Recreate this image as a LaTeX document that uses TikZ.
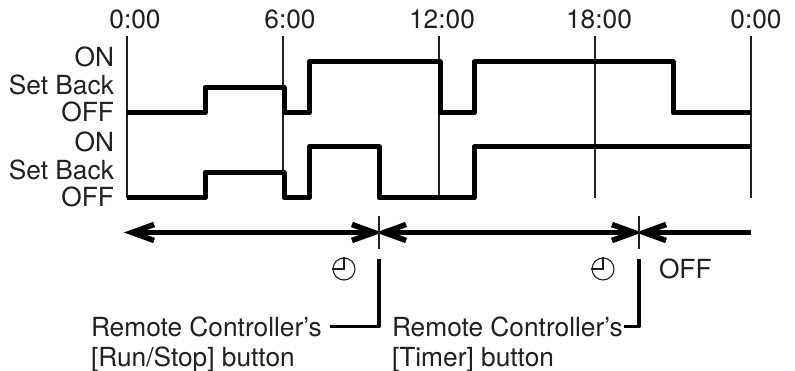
\documentclass[tikz,border=0pt]{standalone}
\usepackage{fontspec}
\setmainfont{TeX Gyre Heros}
\usetikzlibrary{positioning}
\usetikzlibrary{calc}
\usetikzlibrary{arrows.meta}

\definecolor{txt}{HTML}{231F20}

\begin{document}
\begin{tikzpicture}[x=1pt, y=-1pt]
% ------------------------------------------------- 
\tikzset{
  base/.style={inner sep=0pt, outer sep=0pt, text=txt, font=\fontsize{26.3}{30}\selectfont},
  hour/.style={base, anchor=base},
  level/.style={base, anchor=base east},
  note/.style={base, anchor=base west},
  grid/.style={draw=txt, line width=1.3pt},
  trace/.style={draw=black, line width=5pt, line join=round},
  span/.style={draw=black, line width=4.5pt, shorten <=-3pt, shorten >=-3pt, >={Straight Barb[length=22pt, width=16pt, line width=5.5pt]}},
  lead/.style={draw=black, line width=3.6pt, line join=round},
  clockface/.style={draw=txt, line width=1.1pt}
}
\useasboundingbox (0,0) rectangle (795,371);

% time scale
\foreach \name/\x/\lab/\tx in {a/127/0:00/135, b/283/6:00/290, c/439/12:00/442, d/595/18:00/599, e/751/0:00/756} {
  \node [hour] (hour\name) at (\tx,29) {\lab};
  \coordinate (top\name) at (\x,36);
  \coordinate (bot\name) at (\x,198);
  \draw [grid] (top\name) -- (bot\name);
}

% state labels
\foreach \name/\y/\lab in {ona/67/ON, seta/95/Set Back, offa/122/OFF, onb/152/ON, setb/180/Set Back, offb/207/OFF} {
  \node [level] (\name) at (114,\y) {\lab};
}

% state traces
\draw [trace] (127,113) -- (205,113) -- (205,87.5) -- (284,87.5) -- (284,113) -- (309,113) -- (309,62)
  -- (440,62) -- (440,113) -- (474,113) -- (474,62) -- (673,62) -- (673,113) -- (751,113);
\draw [trace] (127,198) -- (205,198) -- (205,172.5) -- (284,172.5) -- (284,198) -- (309,198) -- (309,147)
  -- (379,147) -- (379,198) -- (474,198) -- (474,147) -- (751,147);

% operation spans
\coordinate (spanl) at (127,232.5);
\coordinate (spanr) at (751,232.5);
\coordinate (runa) at (379,216);
\coordinate (runb) at (379,249);
\coordinate (tima) at (639,216);
\coordinate (timb) at (639,249);
\coordinate (runmid) at (379,232.5);
\coordinate (timmid) at (639,232.5);
\path [span, <->] (spanl) -- (runmid);
\path [span, <->] (runmid) -- (timmid);
\path [span, ->, shorten <=0pt] (spanr) -- (timmid);
\draw [grid] (runa) -- (runb);
\draw [grid] (tima) -- (timb);

% clocks
\foreach \name/\x in {clocka/344, clockb/603} {
  \node [clockface, circle, minimum size=22pt, inner sep=0pt] (\name) at (\x,269) {};
  \draw [clockface] (\name.north) -- (\name.center) -- (\name.west);
}
\node [note] (off) at (659,279) {OFF};

% button labels
\node [note] (remrun) at (91,336) {Remote Controller’s};
\node [note] (btnrun) at (91,366) {[Run/Stop] button};
\node [note] (remtim) at (392,336) {Remote Controller’s};
\node [note] (btntim) at (392,366) {[Timer] button};
\coordinate (runtop) at (379,259);
\coordinate (timtop) at (639,259);

\draw [lead] (runtop) |- ([xshift=8pt]remrun.east);
\draw [lead] (timtop) |- ([xshift=1pt]remtim.east);

\end{tikzpicture}
\end{document}
